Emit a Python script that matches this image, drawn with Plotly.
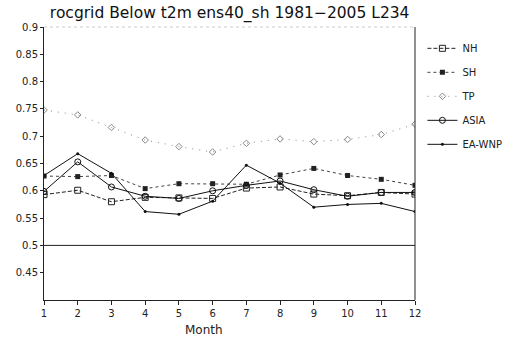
import plotly.graph_objects as go

months = list(range(1, 13))
nh = [0.593, 0.601, 0.580, 0.588, 0.587, 0.586, 0.605, 0.607, 0.594, 0.591, 0.597, 0.594]
sh = [0.627, 0.626, 0.628, 0.604, 0.613, 0.613, 0.612, 0.629, 0.641, 0.628, 0.621, 0.610]
tp = [0.748, 0.739, 0.716, 0.693, 0.681, 0.671, 0.687, 0.695, 0.690, 0.694, 0.703, 0.722]
asia = [0.599, 0.653, 0.607, 0.590, 0.586, 0.600, 0.610, 0.618, 0.602, 0.590, 0.597, 0.597]
eawnp = [0.628, 0.668, 0.632, 0.562, 0.557, 0.581, 0.647, 0.614, 0.570, 0.575, 0.577, 0.562]
ytickvals = [0.45, 0.5, 0.55, 0.6, 0.65, 0.7, 0.75, 0.8, 0.85, 0.9]

FONT = "DejaVu Sans"
fig = go.Figure()

series = [
    ("NH", nh, dict(color="#222", width=1, dash="4px,2px"), dict(symbol="square-open", size=6, color="#222")),
    ("SH", sh, dict(color="#444", width=1, dash="3px,3px"), dict(symbol="square", size=5, color="#222")),
    ("TP", tp, dict(color="#888", width=1, dash="1px,6px"), dict(symbol="diamond-open", size=5, color="#888")),
    ("ASIA", asia, dict(color="#111", width=1), dict(symbol="circle-open", size=6, color="#111")),
    ("EA-WNP", eawnp, dict(color="#111", width=1), dict(symbol="circle", size=3, color="#111")),
]
for i, (name, vals, line, marker) in enumerate(series):
    fig.add_trace(go.Scatter(x=months, y=vals, mode="lines+markers", name=name,
                             line=line, marker=marker, legendgroup=name))

# reference line at 0.5
fig.add_trace(go.Scatter(x=[months[0], months[-1]], y=[0.5, 0.5], mode="lines",
                         line=dict(color="#222", width=1), showlegend=False, hoverinfo="skip"))

fig.update_layout(
    width=528, height=342,
    margin=dict(l=44, r=113, t=27, b=42),
    plot_bgcolor="white", paper_bgcolor="white",
    font=dict(family=FONT, size=10, color="#222"),
    title=dict(text="rocgrid Below t2m ens40_sh 1981\u22122005 L234", x=0.435, xanchor="center",
               y=0.962, yanchor="middle", font=dict(family=FONT, size=15.5, color="#111")),
    showlegend=True,
    legend=dict(x=1.02, xanchor="left", y=0.975, yanchor="top", font=dict(size=10, color="#222"),
                tracegroupgap=5, bgcolor="rgba(0,0,0,0)", itemwidth=30),
    xaxis=dict(range=[1, 12], tickvals=months, ticks="outside", ticklen=4, tickcolor="#222",
               showgrid=False, zeroline=False, showline=True, linecolor="#222", linewidth=1,
               mirror=False, automargin=False, tickfont=dict(size=10)),
    yaxis=dict(range=[0.4, 0.9], tickvals=ytickvals, ticks="outside", ticklen=3, tickcolor="#222",
               showgrid=False, zeroline=False, showline=True, linecolor="#222", linewidth=1,
               automargin=False, tickfont=dict(size=10)),
)
fig.add_annotation(text="Month", xref="paper", yref="paper", x=0.43, y=-0.11,
                   xanchor="center", yanchor="middle", showarrow=False,
                   font=dict(family=FONT, size=12, color="#222"))
# right border
fig.add_shape(type="line", xref="paper", yref="paper", x0=1, x1=1, y0=0, y1=1,
              line=dict(color="#222", width=1))
fig.add_shape(type="line", xref="paper", yref="paper", x0=0, x1=1, y0=1, y1=1,
              line=dict(color="#ccc", width=1, dash="dot"))

fig.write_html("out.html")
